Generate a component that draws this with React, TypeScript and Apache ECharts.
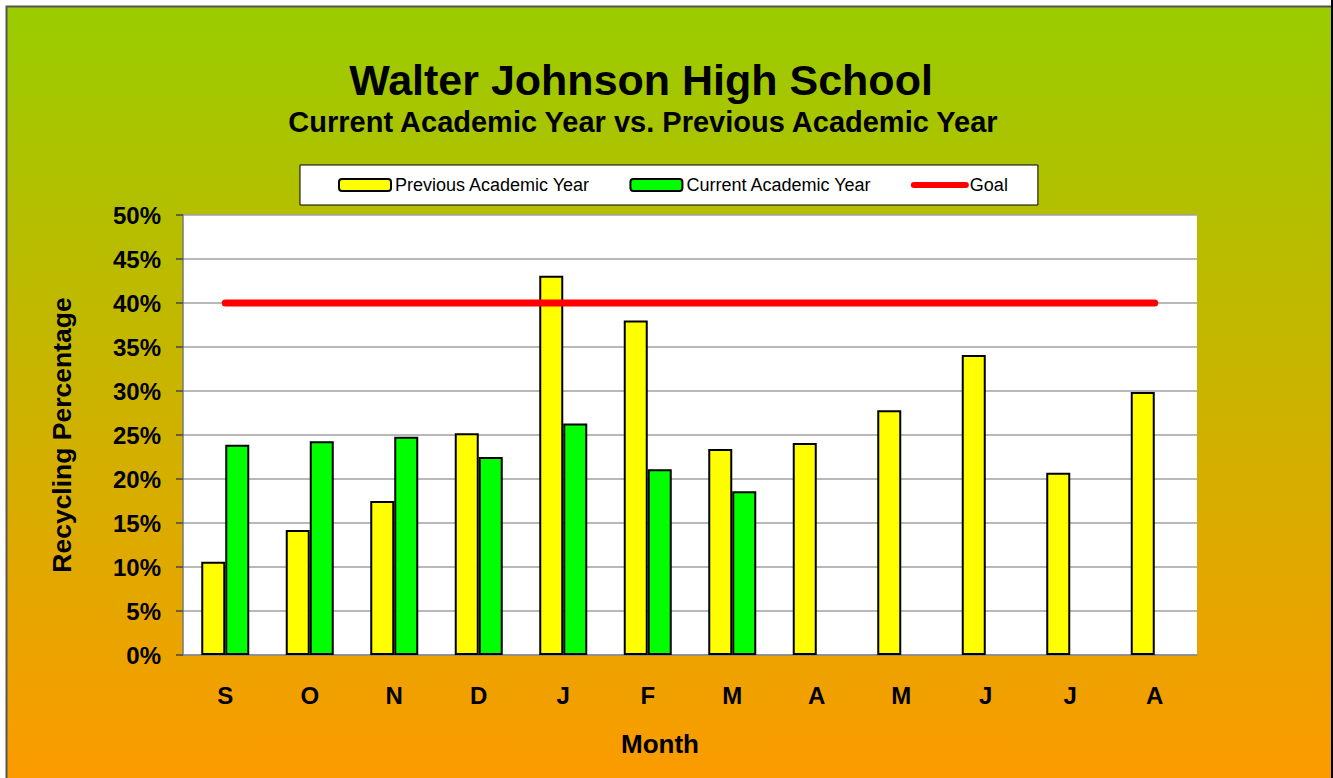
import React, { useEffect, useRef } from "react";
import * as echarts from "echarts";

const months = ["S", "O", "N", "D", "J", "F", "M", "A", "M", "J", "J", "A"];
const previousYear = [10.6, 14.2, 17.5, 25.2, 43.1, 38.0, 23.4, 24.1, 27.8, 34.1, 20.7, 29.9];
const currentYear = [23.9, 24.3, 24.8, 22.5, 26.3, 21.1, 18.6, null, null, null, null, null];
const goal = [40, 40, 40, 40, 40, 40, 40, 40, 40, 40, 40, 40];
const yTicks = { min: 0, max: 50, interval: 5 };

const FONT = "Arial, 'Liberation Sans', sans-serif";

export default function App() {
  const ref = useRef<HTMLDivElement>(null);
  useEffect(() => {
    document.body.style.margin = "0";
    const chart = echarts.init(ref.current!, null, { renderer: "svg" });
    chart.setOption({
      animation: false,
      textStyle: { fontFamily: FONT },
      graphic: [
        {
          type: "rect",
          z: -10,
          silent: true,
          shape: { x: 6.5, y: 6.5, width: 1360, height: 800 },
          style: {
            fill: new echarts.graphic.LinearGradient(0, 0, 0, 1, [
              { offset: 0, color: "#99cc00" },
              { offset: 1, color: "#ff9900" },
            ]),
            stroke: "#555555",
            lineWidth: 2,
          },
        },
        {
          type: "rect",
          z: -5,
          silent: true,
          shape: { x: 1331, y: 0, width: 2, height: 778 },
          style: { fill: "#000" },
        },
      ],
      title: [
        {
          text: "Walter Johnson High School",
          left: 636,
          top: 53,
          textAlign: "center",
          textStyle: { fontFamily: FONT, fontSize: 43, fontWeight: "bold", color: "#000" },
        },
        {
          text: "Current Academic Year vs. Previous Academic Year",
          left: 638,
          top: 102,
          textAlign: "center",
          textStyle: { fontFamily: FONT, fontSize: 29, fontWeight: "bold", color: "#000" },
        },
      ],
      legend: {
        left: 300,
        top: 165,
        width: 738,
        padding: [11, 30, 11, 38],
        itemWidth: 52,
        itemHeight: 12,
        itemGap: 39,
        backgroundColor: "#fff",
        borderColor: "#000",
        borderWidth: 1,
        textStyle: { fontFamily: FONT, fontSize: 18, color: "#000", padding: [0, 0, 0, -1] },
        data: [
          "Previous Academic Year",
          "Current Academic Year",
          { name: "Goal", itemStyle: { opacity: 0 }, lineStyle: { width: 6, cap: "round", color: "#ff0000" } },
        ],
      },
      grid: { left: 183, right: 136, top: 215, bottom: 123, show: true, backgroundColor: "#fff", borderWidth: 0 },
      xAxis: {
        type: "category",
        data: months,
        axisLine: { show: true, lineStyle: { color: "#888", width: 1.5 } },
        axisTick: { show: false },
        axisLabel: { fontFamily: FONT, fontSize: 24, fontWeight: "bold", color: "#000", margin: 28 },
        name: "Month",
        nameLocation: "middle",
        nameGap: 76,
        nameTextStyle: {
          fontFamily: FONT,
          fontSize: 26,
          fontWeight: "bold",
          color: "#000",
          padding: [0, 60, 0, 0],
        },
      },
      yAxis: {
        type: "value",
        min: yTicks.min,
        max: yTicks.max,
        interval: yTicks.interval,
        axisLine: { show: true, lineStyle: { color: "#777", width: 1.5 } },
        axisTick: { show: true, length: 7, lineStyle: { color: "#444", width: 1.5 } },
        splitLine: { show: true, lineStyle: { color: "#a0a0a0", width: 1.5 } },
        axisLabel: {
          formatter: "{value}%",
          fontFamily: FONT,
          fontSize: 24,
          fontWeight: "bold",
          color: "#000",
          margin: 22,
        },
        name: "Recycling Percentage",
        nameLocation: "middle",
        nameGap: 108,
        nameTextStyle: { fontFamily: FONT, fontSize: 26.5, fontWeight: "bold", color: "#000" },
      },
      series: [
        {
          name: "Previous Academic Year",
          type: "bar",
          data: previousYear,
          barWidth: 24,
          barGap: "0%",
          itemStyle: { color: "#ffff00", borderColor: "#000", borderWidth: 2 },
        },
        {
          name: "Current Academic Year",
          type: "bar",
          data: currentYear,
          barWidth: 24,
          barGap: "0%",
          itemStyle: { color: "#00ff00", borderColor: "#000", borderWidth: 2 },
        },
        {
          name: "Goal",
          type: "line",
          data: goal,
          symbol: "none",
          itemStyle: { color: "#ff0000" },
          lineStyle: { color: "#ff0000", width: 7, cap: "round" },
          z: 5,
        },
      ],
    });
    return () => chart.dispose();
  }, []);
  return <div ref={ref} style={{ width: 1333, height: 778 }} />;
}
